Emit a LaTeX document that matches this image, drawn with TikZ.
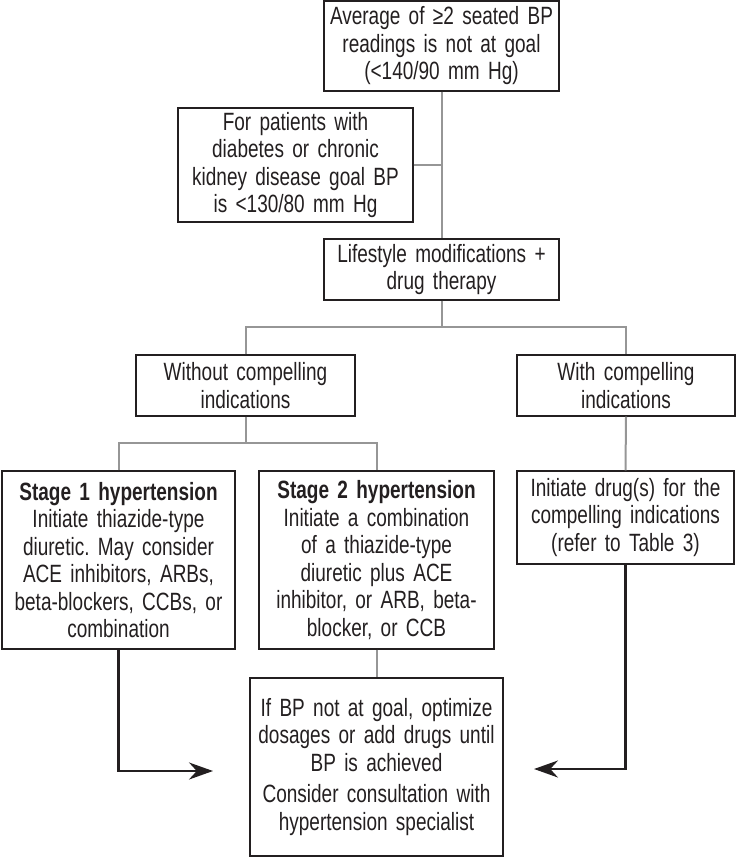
\documentclass[tikz,border=0pt]{standalone}
\usepackage{fontspec}
\setmainfont{Liberation Sans}[FakeStretch=0.76, WordSpace=0.8]
\usepackage{xcolor}
\usetikzlibrary{arrows.meta, positioning}
\definecolor{boxline}{RGB}{35, 31, 32}
\definecolor{linkgray}{RGB}{150, 150, 150}
\frenchspacing

\begin{document}
\begin{tikzpicture}[x=1pt, y=-1pt, >=Stealth,
    box/.style={draw=boxline, line width=1.4pt, align=center, inner sep=0pt,
        font=\fontsize{25}{27.5}\selectfont, text=boxline},
    link/.style={draw=linkgray, line width=2pt},
    flow/.style={draw=boxline, line width=2.4pt, -{Stealth[length=24pt, width=17pt]}}]
    \useasboundingbox (0,0) rectangle (736,858);
    % boxes
    \node[box, minimum width=235, minimum height=90, text width=225] (goal) at (441.5,46)
        {Average of ≥2 seated BP\\readings is not at goal\\(<140/90 mm Hg)};
    \node[box, minimum width=235, minimum height=114, text width=225] (diab) at (295.5,165)
        {For patients with\\diabetes or chronic\\kidney disease goal BP\\is <130/80 mm Hg};
    \node[box, minimum width=235, minimum height=61, text width=225] (life) at (441.5,269.5)
        {Lifestyle modifications +\\drug therapy};
    \node[box, minimum width=219, minimum height=61, text width=210] (without) at (245.5,385.5)
        {Without compelling\\indications};
    \node[box, minimum width=218, minimum height=61, text width=210] (with) at (626,385.5)
        {With compelling\\indications};
    \node[box, minimum width=233, minimum height=178, text width=226] (stage1) at (118.5,560)
        {\textbf{Stage 1 hypertension}\\Initiate thiazide-type\\diuretic. May consider\\ACE inhibitors, ARBs,\\beta-blockers, CCBs, or\\combination};
    \node[box, minimum width=235, minimum height=178, text width=226] (stage2) at (376.5,560)
        {\textbf{Stage 2 hypertension}\\Initiate a combination\\of a thiazide-type\\diuretic plus ACE\\inhibitor, or ARB, beta-\\blocker, or CCB};
    \node[box, minimum width=217, minimum height=93, text width=210] (initiate) at (625.5,517.5)
        {Initiate drug(s) for the\\compelling indications\\(refer to Table 3)};
    \node[box, minimum width=253, minimum height=178, text width=245] (final) at (376.5,767)
        {If BP not at goal, optimize\\dosages or add drugs until\\BP is achieved\\[4pt]Consider consultation with\\hypertension specialist};
    % branch points
    \coordinate (split) at (441.5,327);
    \coordinate (subsplit) at (245.5,443);
    \coordinate (leftin) at (213,771);
    \coordinate (rightin) at (534,769);
    % connectors
    \draw[link] (goal.south) -- (life.north);
    \draw[link] (diab.east) -- (diab.east -| goal.south);
    \draw[link] (life.south) -- (split);
    \draw[link] (without.north) |- (split) -| (with.north);
    \draw[link] (without.south) -- (subsplit);
    \draw[link] (stage1.north) |- (subsplit) -| (stage2.north);
    \draw[link] (with.south) -- (initiate.north);
    \draw[link] (stage2.south) -- (final.north);
    \draw[flow] (stage1.south) |- (leftin);
    \draw[flow] (initiate.south) |- (rightin);
\end{tikzpicture}
\end{document}
